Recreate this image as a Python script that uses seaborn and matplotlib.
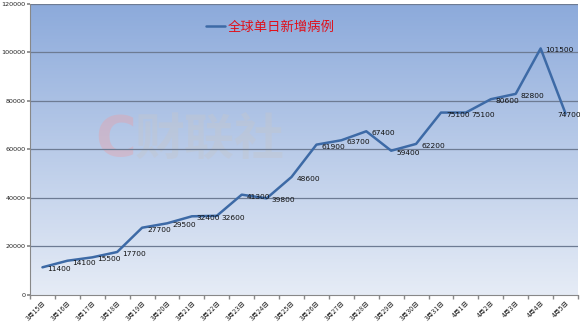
import numpy as np
import pandas as pd
import matplotlib
matplotlib.use("Agg")
import matplotlib.pyplot as plt
import seaborn as sns
from matplotlib.colors import LinearSegmentedColormap

dates = ["3月15日", "3月16日", "3月17日", "3月18日", "3月19日", "3月20日", "3月21日",
         "3月22日", "3月23日", "3月24日", "3月25日", "3月26日", "3月27日", "3月28日",
         "3月29日", "3月30日", "3月31日", "4月1日", "4月2日", "4月3日", "4月4日", "4月5日"]
new_cases = [11400, 14100, 15500, 17700, 27700, 29500, 32400, 32600, 41300, 39800,
             48600, 61900, 63700, 67400, 59400, 62200, 75100, 75100, 80600, 82800,
             101500, 74700]
y_ticks = [0, 20000, 40000, 60000, 80000, 100000, 120000]
series_name = "全球单日新增病例"

sns.set_theme(style="white")
plt.rcParams['font.family'] = ['Noto Sans CJK SC', 'DejaVu Sans']

df = pd.DataFrame({"pos": np.arange(len(dates)), "date": dates, "cases": new_cases})

fig = plt.figure(figsize=(5.8, 3.23), dpi=100)
ax = fig.add_axes([30/580, 1-295/323, 548/580, (295-3.5)/323])

# gradient background
cmap = LinearSegmentedColormap.from_list("bg", ["#e6ecf6", "#8caadb"])
grad = np.linspace(0, 1, 256).reshape(-1, 1)
ax.imshow(grad, aspect="auto", cmap=cmap, origin="lower",
          extent=[-0.5, len(dates)-0.5, 0, 120000], zorder=0)

# watermark
ax.text(2.1, 64000, "C", fontsize=40, color="#e8a0a8", alpha=0.4,
        ha="left", va="center", fontweight="bold", zorder=1, family="DejaVu Sans")
ax.text(3.7, 64000, "财联社", fontsize=36, color="#c4c6cc", alpha=0.4,
        ha="left", va="center", fontweight="bold", zorder=1)

for t in y_ticks[1:]:
    ax.axhline(t, color="#6d7b93", lw=0.9, zorder=2)

line_color = "#3d6aa6"
sns.lineplot(data=df, x="pos", y="cases", color=line_color, lw=1.8, ax=ax, zorder=3,
             label=series_name)

n = len(df)
for i, (x, y) in enumerate(zip(df["pos"], df["cases"])):
    if i == n - 1:
        ax.text(x + 0.15, y - 800, f"{y}", fontsize=5.4, ha="center", va="center",
                color="#111111", zorder=4, family="DejaVu Sans")
    else:
        ax.text(x + 0.2, y - 800, f"{y}", fontsize=5.4, ha="left", va="center",
                color="#111111", zorder=4, family="DejaVu Sans")

ax.set_xlim(-0.5, len(dates) - 0.5)
ax.set_ylim(0, 120000)
ax.set_yticks(y_ticks)
ax.set_yticklabels([str(t) for t in y_ticks], fontsize=4.6, color="#222222",
                   family="DejaVu Sans")
ax.set_xticks(df["pos"])
ax.set_xticklabels(dates, rotation=45, ha="right", rotation_mode="anchor",
                   fontsize=4.9, color="#222222")
ax.set_xticks(np.arange(-0.5, len(dates)), minor=True)
ax.tick_params(axis="x", which="major", length=0, pad=3)
ax.tick_params(axis="x", which="minor", length=3, color="#888888", direction="out",
               bottom=True)
ax.tick_params(axis="y", length=2, color="#888888", direction="out", left=True, pad=1)
ax.set_xlabel("")
ax.set_ylabel("")

for s in ["top", "right"]:
    ax.spines[s].set_visible(False)
for s in ["left", "bottom"]:
    ax.spines[s].set_color("#888888")
    ax.spines[s].set_linewidth(0.8)

leg = ax.legend(loc="upper left", bbox_to_anchor=(0.3, 0.985), frameon=False,
                handlelength=1.4, handletextpad=0.2, fontsize=9.6)
for t in leg.get_texts():
    t.set_color("#e0101a")

fig.savefig("out.png", dpi=100)
